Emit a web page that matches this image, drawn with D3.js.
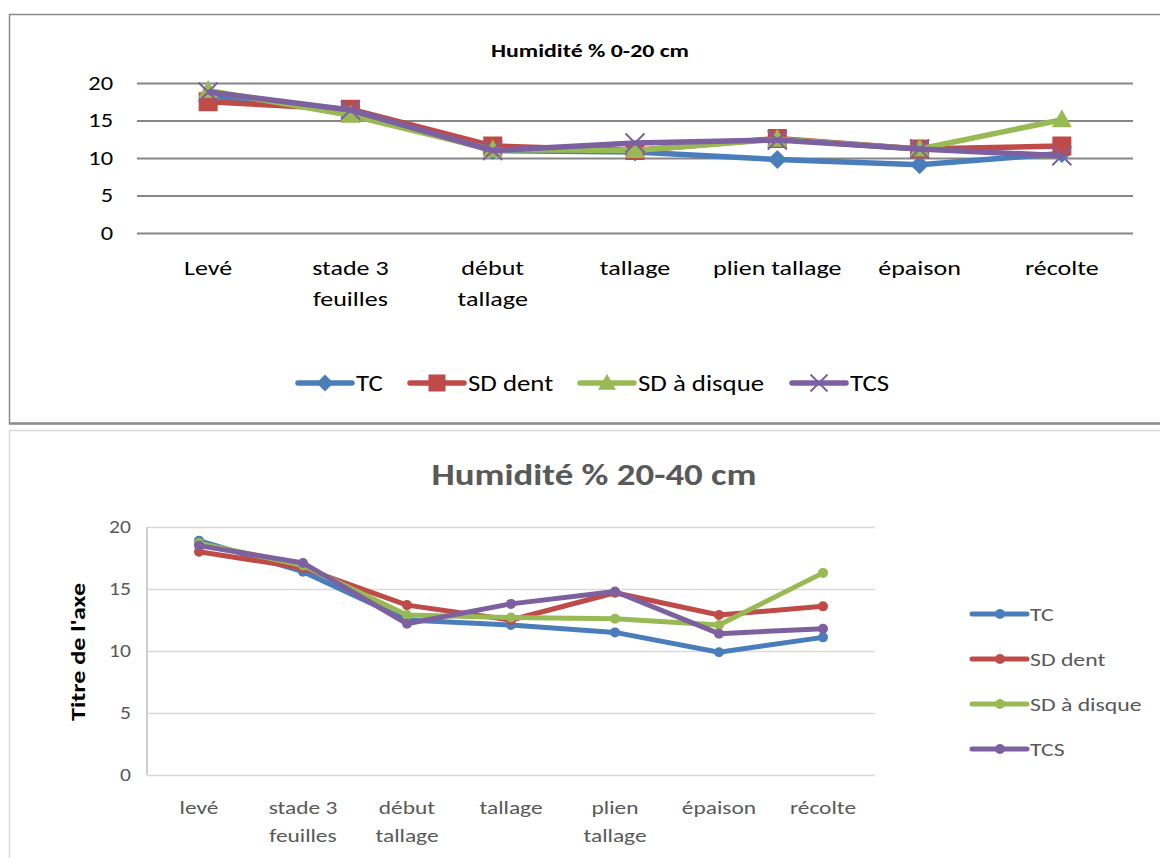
<!DOCTYPE html>
<html>
<head>
<meta charset="utf-8">
<script src="https://cdn.jsdelivr.net/npm/d3@7/dist/d3.min.js"></script>
<style>
  body { margin: 0; background: #fff; }
  svg { display: block; font-family: Carlito, Calibri, Lato, "Open Sans", sans-serif; }
</style>
</head>
<body>
<svg id="chart" width="1160" height="858"></svg>
<script>
// Soil moisture (%) by growth stage, for four tillage systems
const seriesNames = ["TC", "SD dent", "SD à disque", "TCS"];
const seriesColors = ["#4a7ebb", "#be4b48", "#98b954", "#7d60a0"];

const stagesTop = ["Levé", "stade 3\nfeuilles", "début\ntallage", "tallage", "plien tallage", "épaison", "récolte"];
const stagesBottom = ["levé", "stade 3\nfeuilles", "début\ntallage", "tallage", "plien\ntallage", "épaison", "récolte"];

// 0-20 cm layer
const top_TC     = [18.3, 16.2, 11.0, 10.8, 9.8, 9.1, 10.6];
const top_SDdent = [17.5, 16.5, 11.6, 11.0, 12.6, 11.2, 11.6];
const top_SDdisq = [19.0, 15.7, 11.1, 11.0, 12.5, 11.2, 15.1];
const top_TCS    = [18.8, 16.4, 11.0, 12.0, 12.4, 11.2, 10.3];

// 20-40 cm layer
const bot_TC     = [18.9, 16.4, 12.5, 12.1, 11.5, 9.9, 11.1];
const bot_SDdent = [18.0, 16.7, 13.7, 12.5, 14.7, 12.9, 13.6];
const bot_SDdisq = [18.7, 16.9, 12.9, 12.7, 12.6, 12.1, 16.3];
const bot_TCS    = [18.5, 17.1, 12.2, 13.8, 14.8, 11.4, 11.8];

const yTicks = [0, 5, 10, 15, 20];

const svg = d3.select("#chart");

// widen a text run horizontally (the chart's font is set wider than Lato)
function widen(sel, f) {
  sel.each(function () {
    const len = this.getComputedTextLength();
    d3.select(this).attr("textLength", len * f).attr("lengthAdjust", "spacingAndGlyphs");
  });
}

// ---------- Upper chart frame ----------
svg.append("rect").attr("x", 9.5).attr("y", 14.5).attr("width", 1160).attr("height", 409)
  .attr("fill", "#fff").attr("stroke", "#8c8c8c").attr("stroke-width", 1.5);
svg.append("line").attr("x1", 9).attr("x2", 1160).attr("y1", 423.5).attr("y2", 423.5)
  .attr("stroke", "#8c8c8c").attr("stroke-width", 2.5);

// ---------- Lower chart frame ----------
svg.append("rect").attr("x", 9.5).attr("y", 430.5).attr("width", 1160).attr("height", 440)
  .attr("fill", "#fff").attr("stroke", "#d9d9d9").attr("stroke-width", 1.5);

function multiline(sel, lineH) {
  sel.each(function (d) {
    const t = d3.select(this);
    const parts = String(d).split("\n");
    t.text(null);
    parts.forEach((p, i) => {
      t.append("tspan").attr("x", t.attr("x")).attr("dy", i === 0 ? 0 : lineH).text(p);
    });
  });
}

function markerPath(kind, size) {
  const s = size / 2;
  if (kind === 0) return `M0,${-s}L${s},0L0,${s}L${-s},0Z`;
  if (kind === 1) return `M${-s},${-s}H${s}V${s}H${-s}Z`;
  if (kind === 2) return `M0,${-s * 1.1}L${s * 1.05},${s * 0.8}L${-s * 1.05},${s * 0.8}Z`;
  return `M${-s},${-s}L${s},${s}M${s},${-s}L${-s},${s}`;
}

// ================= Upper chart: 0-20 cm =================
(function () {
  const left = 137, right = 1133, top = 83, bottom = 233;
  const x = d3.scaleBand().domain(d3.range(stagesTop.length)).range([left, right]).padding(0);
  const y = d3.scaleLinear().domain([0, 20]).range([bottom, top]);
  const g = svg.append("g");

  g.append("text").attr("x", 590).attr("y", 57).attr("text-anchor", "middle")
    .attr("font-size", 18).attr("font-weight", "bold").attr("fill", "#000")
    .attr("textLength", 198).attr("lengthAdjust", "spacingAndGlyphs")
    .text("Humidité % 0-20 cm");

  const yAxis = g.append("g").attr("transform", `translate(${left},0)`)
    .call(d3.axisLeft(y).tickValues(yTicks).tickSize(-(right - left)).tickPadding(24));
  yAxis.select(".domain").remove();
  yAxis.selectAll(".tick line").attr("stroke", "#868686").attr("stroke-width", 2);
  yAxis.selectAll(".tick text").attr("font-size", 20).attr("fill", "#000")
    .attr("font-family", "Carlito, Calibri, Lato, sans-serif").call(widen, 1.22);

  g.selectAll(".cat").data(stagesTop).join("text")
    .attr("class", "cat")
    .attr("x", (d, i) => x(i) + x.bandwidth() / 2)
    .attr("y", 275).attr("text-anchor", "middle")
    .attr("font-size", 21).attr("fill", "#000")
    .call(multiline, 31);
  g.selectAll(".cat tspan").call(widen, 1.24);

  const data = [top_TC, top_SDdent, top_SDdisq, top_TCS];
  const line = d3.line().x((d, i) => x(i) + x.bandwidth() / 2).y(d => y(d));
  data.forEach((vals, k) => {
    g.append("path").datum(vals).attr("d", line).attr("fill", "none")
      .attr("stroke", seriesColors[k]).attr("stroke-width", 5.5).attr("stroke-linejoin", "round");
    g.selectAll(".m" + k).data(vals).join("path")
      .attr("transform", (d, i) => `translate(${x(i) + x.bandwidth() / 2},${y(d)})`)
      .attr("d", markerPath(k, 19))
      .attr("fill", k === 3 ? "none" : seriesColors[k])
      .attr("stroke", seriesColors[k]).attr("stroke-width", k === 3 ? 2 : 0);
  });

  // legend
  const legX = [298, 410, 580, 792];
  seriesNames.forEach((name, k) => {
    const lg = g.append("g").attr("transform", `translate(${legX[k]},383)`);
    lg.append("line").attr("x1", 0).attr("x2", 54).attr("stroke", seriesColors[k])
      .attr("stroke-width", 5.5).attr("stroke-linecap", "round");
    lg.append("path").attr("transform", "translate(27,0)").attr("d", markerPath(k, 17))
      .attr("fill", k === 3 ? "none" : seriesColors[k])
      .attr("stroke", seriesColors[k]).attr("stroke-width", k === 3 ? 2 : 0);
    lg.append("text").attr("x", 58).attr("y", 8).attr("font-size", 22).attr("fill", "#000")
      .text(name).call(widen, 1.22);
  });
})();

// ================= Lower chart: 20-40 cm =================
(function () {
  const left = 147, right = 875, top = 527, bottom = 775;
  const x = d3.scaleBand().domain(d3.range(stagesBottom.length)).range([left, right]).padding(0);
  const y = d3.scaleLinear().domain([0, 20]).range([bottom, top]);
  const g = svg.append("g");

  g.append("text").attr("x", 594).attr("y", 485).attr("text-anchor", "middle")
    .attr("font-size", 31).attr("font-weight", "bold").attr("fill", "#595959")
    .attr("textLength", 325).attr("lengthAdjust", "spacingAndGlyphs")
    .text("Humidité % 20-40 cm");

  g.append("text").attr("transform", "translate(85,652) rotate(-90)")
    .attr("text-anchor", "middle").attr("font-size", 21).attr("font-weight", "bold")
    .attr("fill", "#000").attr("textLength", 138).attr("lengthAdjust", "spacingAndGlyphs")
    .text("Titre de l'axe");

  const yAxis = g.append("g").attr("transform", `translate(${left},0)`)
    .call(d3.axisLeft(y).tickValues(yTicks).tickSize(-(right - left)).tickPadding(16));
  yAxis.select(".domain").remove();
  yAxis.selectAll(".tick line").attr("stroke", "#d9d9d9").attr("stroke-width", 1.5);
  yAxis.selectAll(".tick text").attr("font-size", 18).attr("fill", "#595959")
    .attr("font-family", "Carlito, Calibri, Lato, sans-serif").call(widen, 1.2);
  g.append("line").attr("x1", left).attr("x2", left).attr("y1", top).attr("y2", bottom)
    .attr("stroke", "#bfbfbf").attr("stroke-width", 1.5);

  g.selectAll(".cat").data(stagesBottom).join("text")
    .attr("class", "cat")
    .attr("x", (d, i) => x(i) + x.bandwidth() / 2)
    .attr("y", 814).attr("text-anchor", "middle")
    .attr("font-size", 19).attr("fill", "#595959")
    .call(multiline, 28);
  g.selectAll(".cat tspan").call(widen, 1.23);

  const data = [bot_TC, bot_SDdent, bot_SDdisq, bot_TCS];
  const line = d3.line().x((d, i) => x(i) + x.bandwidth() / 2).y(d => y(d));
  data.forEach((vals, k) => {
    g.append("path").datum(vals).attr("d", line).attr("fill", "none")
      .attr("stroke", seriesColors[k]).attr("stroke-width", 5).attr("stroke-linejoin", "round");
    g.selectAll(".c" + k).data(vals).join("circle")
      .attr("cx", (d, i) => x(i) + x.bandwidth() / 2).attr("cy", d => y(d))
      .attr("r", 5).attr("fill", seriesColors[k]);
  });

  seriesNames.forEach((name, k) => {
    const ly = 614 + k * 45;
    const lg = g.append("g").attr("transform", `translate(972,${ly})`);
    lg.append("line").attr("x1", 0).attr("x2", 55).attr("stroke", seriesColors[k])
      .attr("stroke-width", 5).attr("stroke-linecap", "round");
    lg.append("circle").attr("cx", 28).attr("r", 5).attr("fill", seriesColors[k]);
    lg.append("text").attr("x", 58).attr("y", 7).attr("font-size", 19).attr("fill", "#595959")
      .text(name).call(widen, 1.25);
  });
})();
</script>
</body>
</html>
